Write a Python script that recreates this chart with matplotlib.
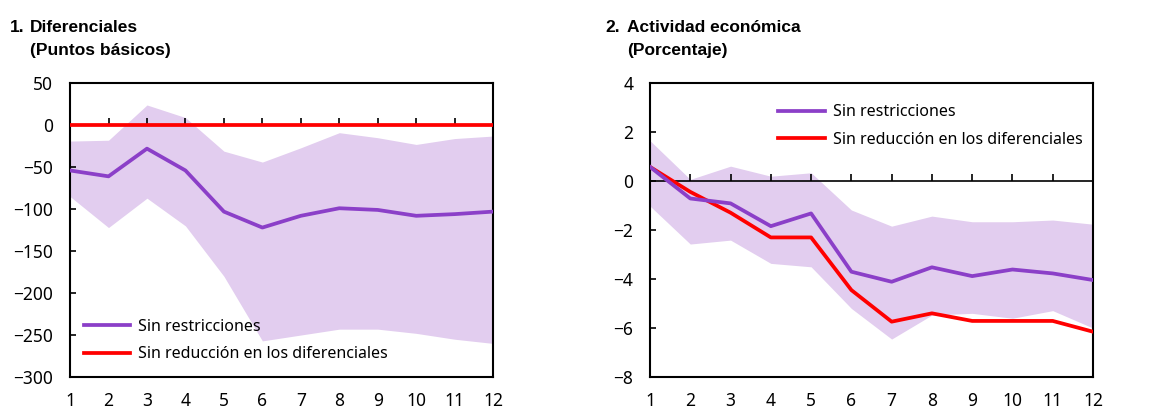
import numpy as np
import matplotlib
matplotlib.use("Agg")
import matplotlib.pyplot as plt
from matplotlib.markers import TICKUP

# horizons (quarters after the shock)
periods = np.arange(1, 13)

# panel 1: spreads, basis points
spr_base = [-54, -61, -28, -54, -103, -122, -108, -99, -101, -108, -106, -103]
spr_lo = [-85, -122, -87, -120, -180, -257, -250, -243, -243, -248, -255, -260]
spr_hi = [-19, -18, 24, 9, -31, -44, -27, -9, -15, -23, -16, -13]
spr_norel = [0, 0, 0, 0, 0, 0, 0, 0, 0, 0, 0, 0]

# panel 2: economic activity, percent
act_base = [0.58, -0.71, -0.91, -1.84, -1.32, -3.70, -4.11, -3.52, -3.88, -3.61, -3.77, -4.04]
act_lo = [-1.02, -2.57, -2.41, -3.36, -3.50, -5.20, -6.45, -5.47, -5.40, -5.60, -5.29, -6.00]
act_hi = [1.65, 0.07, 0.61, 0.20, 0.34, -1.18, -1.84, -1.43, -1.66, -1.66, -1.59, -1.76]
act_norel = [0.58, -0.44, -1.29, -2.30, -2.30, -4.45, -5.74, -5.40, -5.71, -5.71, -5.71, -6.15]

PURPLE = "#8b3fc8"
BAND = "#e2cdef"
RED = "#ff0000"
TICK_FONT = ["Noto Sans", "DejaVu Sans"]
TITLE_FONT = ["Liberation Sans Narrow", "Liberation Sans", "DejaVu Sans"]

fig = plt.figure(figsize=(11.56, 4.11), dpi=100)
ax1 = fig.add_axes([0.0606, 0.0827, 0.366, 0.715])
ax2 = fig.add_axes([0.5623, 0.0827, 0.3832, 0.715])


def panel(ax, base, lo, hi, norel, ylim, ystep):
    ax.fill_between(periods, lo, hi, color=BAND, lw=0, zorder=1)
    ax.axhline(0, color="black", lw=1.2, zorder=2)
    ax.plot(periods, [0] * len(periods), ls="none", marker=TICKUP, ms=5,
            mew=1.2, color="black", zorder=2)
    ax.plot(periods, base, color=PURPLE, lw=2.7, label="Sin restricciones",
            zorder=4)
    ax.plot(periods, norel, color=RED, lw=2.7,
            label="Sin reducción en los diferenciales", zorder=3)
    ax.set_xlim(1, 12)
    ax.set_ylim(*ylim)
    yt = np.arange(ylim[0], ylim[1] + ystep / 2, ystep)
    ax.set_xticks(periods)
    ax.set_yticks(yt)
    ax.set_yticklabels([f"{v:g}".replace("-", "\u2212") for v in yt])
    ax.tick_params(axis="x", length=0, pad=11, labelsize=12.5)
    ax.tick_params(axis="y", direction="in", length=4, width=1.2, pad=12,
                   labelsize=12.5)
    for lab in ax.get_xticklabels() + ax.get_yticklabels():
        lab.set_family(TICK_FONT)
    for s in ax.spines.values():
        s.set_linewidth(1.5)


panel(ax1, spr_base, spr_lo, spr_hi, spr_norel, (-300, 50), 50)
panel(ax2, act_base, act_lo, act_hi, act_norel, (-8, 4), 2)

leg_kw = dict(frameon=False, handlelength=2.9, handletextpad=0.5,
              labelspacing=0.72, borderaxespad=0.0,
              prop={"family": TICK_FONT, "size": 11.5})
ax1.legend(loc="lower left", bbox_to_anchor=(0.017, 0.028), **leg_kw)
ax2.legend(loc="upper left", bbox_to_anchor=(0.275, 0.95), **leg_kw)

title_kw = dict(fontsize=12.5, fontweight="bold", family=TITLE_FONT, va="center")
fig.text(10 / 1156, 1 - 27 / 411, "1.", **title_kw)
fig.text(30 / 1156, 1 - 27 / 411, "Diferenciales", **title_kw)
fig.text(30 / 1156, 1 - 50 / 411, "(Puntos básicos)", **title_kw)
fig.text(605 / 1156, 1 - 27 / 411, "2.", **title_kw)
fig.text(627 / 1156, 1 - 27 / 411, "Actividad económica", **title_kw)
fig.text(627 / 1156, 1 - 50 / 411, "(Porcentaje)", **title_kw)

fig.savefig("out.png", dpi=100)
